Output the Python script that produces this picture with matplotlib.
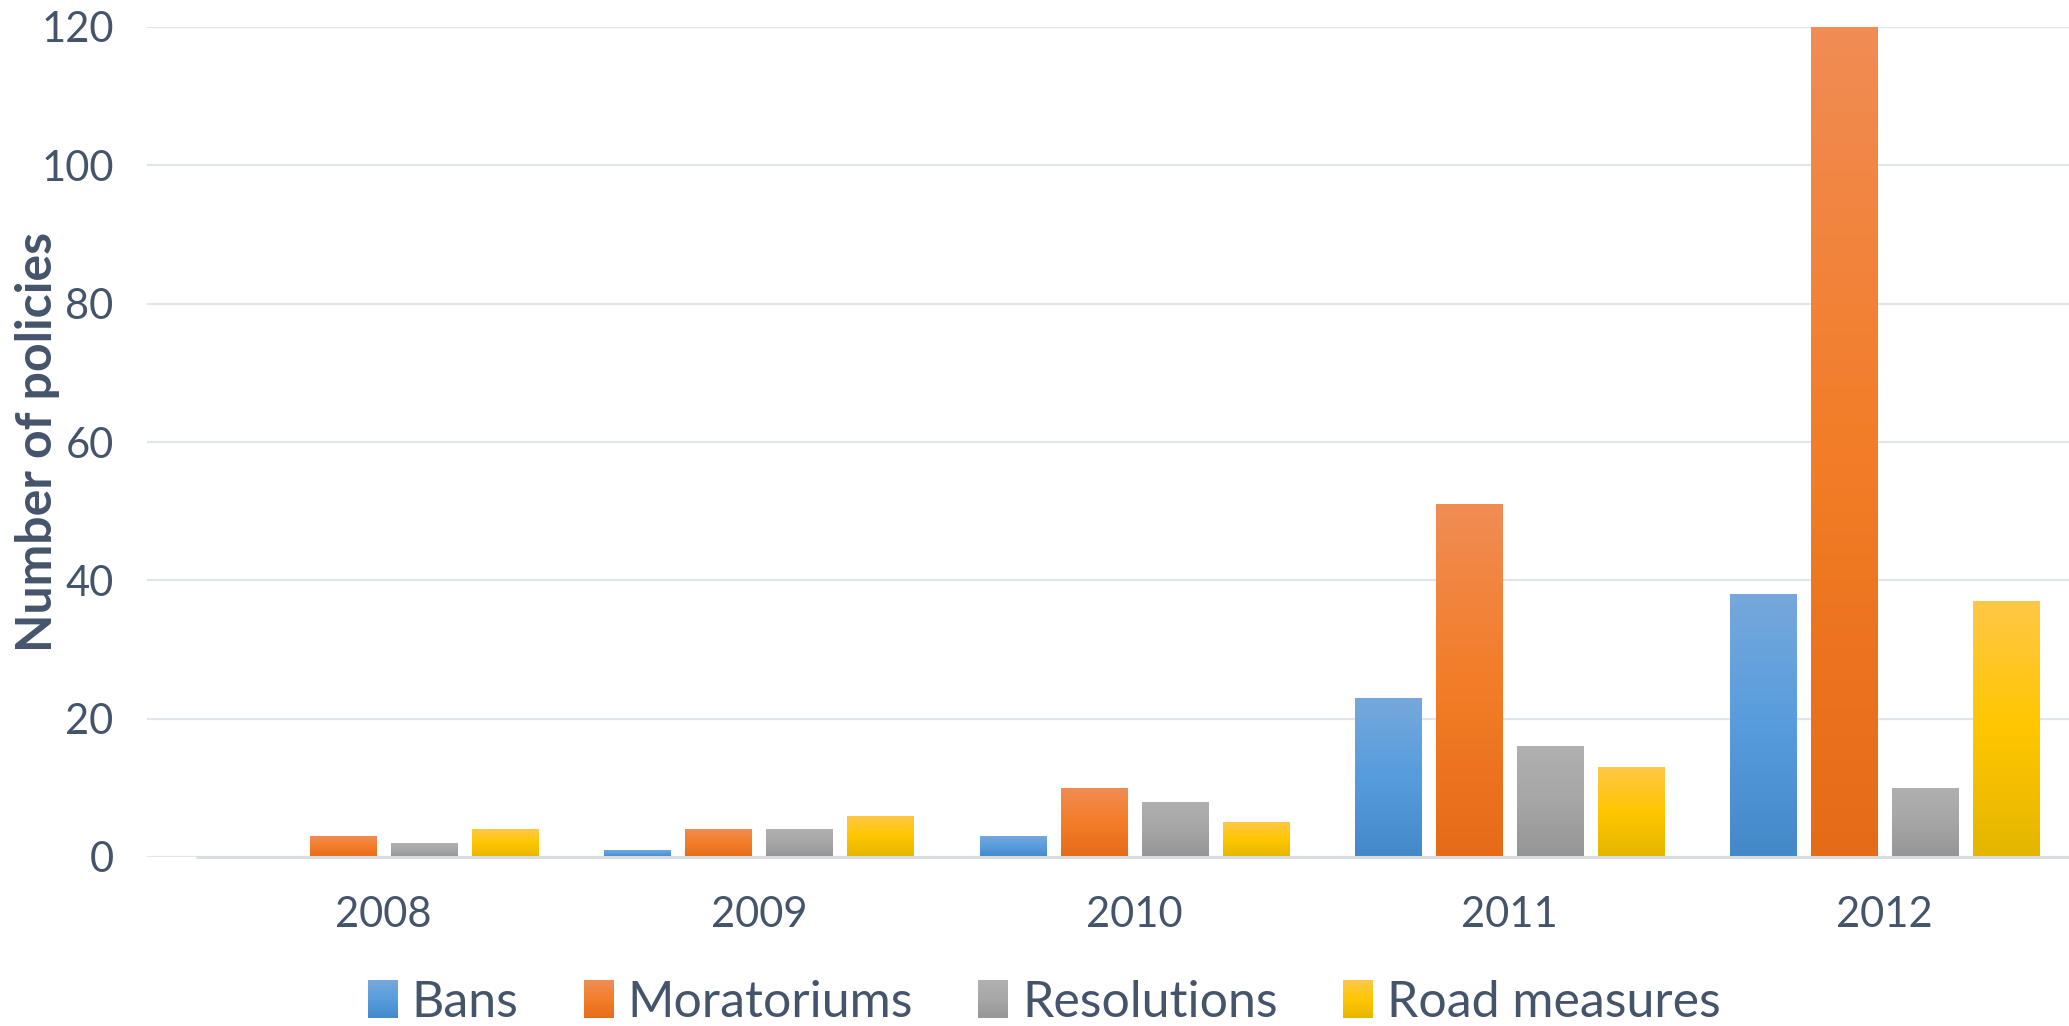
import numpy as np
import matplotlib
matplotlib.use("Agg")
import matplotlib.pyplot as plt
from matplotlib.colors import LinearSegmentedColormap
from matplotlib.patches import Rectangle
from matplotlib.legend_handler import HandlerBase

plt.rcParams['font.family'] = ['Lato', 'DejaVu Sans']

years = ['2008', '2009', '2010', '2011', '2012']
series_names = ['Bans', 'Moratoriums', 'Resolutions', 'Road measures']
bans = [0, 1, 3, 23, 38]
moratoriums = [3, 4, 10, 51, 120]
resolutions = [2, 4, 8, 16, 10]
road_measures = [4, 6, 5, 13, 37]
yticks = [0, 20, 40, 60, 80, 100, 120]

series = [bans, moratoriums, resolutions, road_measures]
# gradient stops (top, middle, bottom)
grads = [
    ['#76A8DB', '#579CDD', '#4389C8'],
    ['#F08C54', '#F37D28', '#E56B18'],
    ['#B0B0B0', '#A6A6A6', '#959595'],
    ['#FFC846', '#FFC600', '#E4B600'],
]
text_color = '#44546A'

W, H = 2069, 1026
fig = plt.figure(figsize=(W / 100, H / 100), dpi=100)
ax_left, ax_right = 147, 2069
ax_top, ax_bot = 27, 857
ax = fig.add_axes([ax_left / W, 1 - ax_bot / H, (ax_right - ax_left) / W, (ax_bot - ax_top) / H])

px_per_unit = 375.25
x0_px = 196
xlim = (-0.5 - (x0_px - ax_left) / px_per_unit, -0.5 + (ax_right - x0_px) / px_per_unit)

x = np.arange(len(years))
pitch = 0.216
width = 0.176
grad_img = np.linspace(0, 1, 256).reshape(-1, 1)
for i, (vals, g) in enumerate(zip(series, grads)):
    cmap = LinearSegmentedColormap.from_list(f'g{i}', [g[0], g[1], g[2]])
    bars = ax.bar(x + (i - 1.5) * pitch, vals, width, color='none', edgecolor='none', zorder=3)
    for b in bars:
        if b.get_height() <= 0:
            continue
        bx, by, bw, bh = b.get_x(), b.get_y(), b.get_width(), b.get_height()
        im = ax.imshow(grad_img, cmap=cmap, extent=[bx, bx + bw, by, by + bh],
                       aspect='auto', origin='upper', zorder=3, interpolation='bilinear')
        im.set_clip_path(b)

ax.set_xlim(*xlim)
ax.set_ylim(0, 120)

for s in ax.spines.values():
    s.set_visible(False)
ax.set_yticks(yticks)
ax.yaxis.grid(True, color='#E1E4E9', linewidth=1.6, zorder=0)
ax.set_axisbelow(True)
ax.plot([-0.5, xlim[1]], [0, 0], color='#D9DCE1', linewidth=2.2, zorder=4, clip_on=False,
        solid_capstyle='butt')

ax.set_xticks(x)
ax.set_xticklabels(years)
ax.tick_params(axis='both', length=0, labelcolor=text_color, labelsize=30)
ax.tick_params(axis='y', pad=24)
ax.tick_params(axis='x', pad=28)

fig.text(38 / W, 1 - 442 / H, 'Number of policies', rotation=90, ha='center', va='center',
         fontsize=36, fontweight='bold', color=text_color)


class GradHandler(HandlerBase):
    def __init__(self, stops):
        super().__init__()
        self.stops = stops

    def create_artists(self, legend, orig_handle, xdescent, ydescent, width, height, fontsize, trans):
        n = 20
        cm = LinearSegmentedColormap.from_list('h', self.stops)
        arts = []
        for k in range(n):
            c = cm(1 - (k + 0.5) / n)
            r = Rectangle((-xdescent, -ydescent + height * k / n), width, height / n + 0.3,
                          facecolor=c, edgecolor='none', transform=trans)
            arts.append(r)
        return arts


handles = [Rectangle((0, 0), 1, 1) for _ in series_names]
hmap = {h: GradHandler(g) for h, g in zip(handles, grads)}
leg = fig.legend(handles, series_names, loc='center', bbox_to_anchor=(1044 / W, 1 - 1003 / H),
                 ncol=4, frameon=False, fontsize=36, handlelength=0.6, handleheight=0.78,
                 handletextpad=0.28, columnspacing=1.3, handler_map=hmap, borderaxespad=0)
for t in leg.get_texts():
    t.set_color(text_color)

fig.savefig('out.png', dpi=100, facecolor='white')
